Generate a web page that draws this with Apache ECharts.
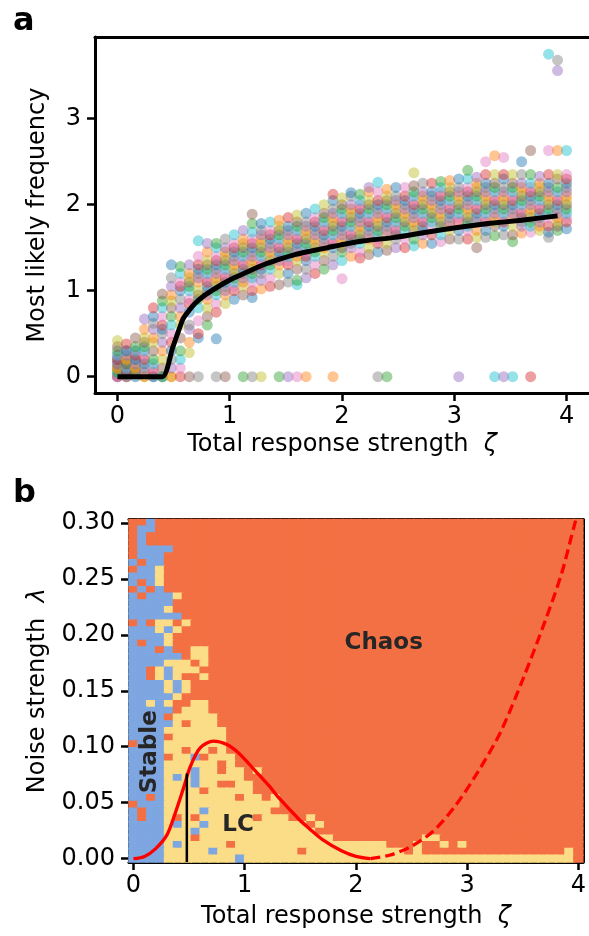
<!DOCTYPE html>
<html>
<head>
<meta charset="utf-8">
<script src="https://cdn.jsdelivr.net/npm/echarts@6/dist/echarts.min.js"></script>
<style>
html, body { margin: 0; padding: 0; background: #fff; }
#chart { width: 589px; height: 936px; }
</style>
</head>
<body>
<div id="chart"></div>
<script>
// ---- panel a : most likely frequency vs response strength ----
var zetaTicks = [0, 1, 2, 3, 4];
var freqTicks = [0, 1, 2, 3];
var zetaGrid = [0, 0.08, 0.16, 0.24, 0.32, 0.4, 0.48, 0.56, 0.64, 0.72, 0.8, 0.88, 0.96, 1.04, 1.12, 1.2, 1.28,
    1.36, 1.44, 1.52, 1.6, 1.68, 1.76, 1.84, 1.92, 2, 2.08, 2.16, 2.24, 2.32, 2.4, 2.48, 2.56, 2.64, 2.72, 2.8,
    2.88, 2.96, 3.04, 3.12, 3.2, 3.28, 3.36, 3.44, 3.52, 3.6, 3.68, 3.76, 3.84, 3.92, 4];
// one list of observed frequencies per zeta value
var freqCols = [
    [0, 0, 0, 0.05, 0.05, 0.1, 0.1, 0.1, 0.15, 0.15, 0.2, 0.2, 0.25, 0.25, 0.3, 0.35, 0.42],
    [0, 0, 0, 0.05, 0.05, 0.1, 0.1, 0.15, 0.15, 0.2, 0.2, 0.25, 0.3, 0.3, 0.38],
    [0, 0, 0.05, 0.05, 0.1, 0.1, 0.15, 0.2, 0.2, 0.25, 0.3, 0.3, 0.35, 0.45],
    [0, 0, 0.05, 0.1, 0.15, 0.2, 0.25, 0.3, 0.35, 0.4, 0.45, 0.55, 0.67],
    [0, 0, 0.05, 0.1, 0.15, 0.2, 0.3, 0.4, 0.45, 0.55, 0.62, 0.7, 0.8],
    [0, 0, 0, 0.1, 0.2, 0.3, 0.4, 0.5, 0.55, 0.6, 0.7, 0.8, 0.88, 0.96],
    [0, 0, 0.1, 0.2, 0.3, 0.4, 0.5, 0.6, 0.7, 0.8, 0.88, 0.95, 1.05, 1.15, 1.3],
    [0, 0.1, 0.2, 0.3, 0.45, 0.6, 0.7, 0.8, 0.9, 1.0, 1.05, 1.1, 1.2, 1.28],
    [0, 0.28, 0.4, 0.55, 0.6, 0.75, 0.85, 0.9, 1.0, 1.05, 1.1, 1.15, 1.2, 1.3],
    [0, 0.45, 0.5, 0.65, 0.8, 0.9, 0.95, 1.0, 1.1, 1.15, 1.2, 1.25, 1.3, 1.4, 1.58],
    [0.6, 0.7, 0.8, 0.9, 0.95, 1.0, 1.05, 1.1, 1.15, 1.2, 1.25, 1.3, 1.35, 1.45, 1.55],
    [0, 0.44, 0.75, 0.85, 0.95, 1.0, 1.05, 1.1, 1.15, 1.2, 1.25, 1.3, 1.35, 1.4, 1.5, 1.55],
    [0, 0.85, 0.95, 1.0, 1.05, 1.1, 1.15, 1.2, 1.25, 1.3, 1.35, 1.4, 1.45, 1.5, 1.6],
    [0.9, 1.0, 1.05, 1.1, 1.15, 1.2, 1.25, 1.3, 1.35, 1.4, 1.45, 1.5, 1.55, 1.65],
    [0, 0.95, 1.05, 1.1, 1.15, 1.2, 1.25, 1.3, 1.35, 1.4, 1.45, 1.5, 1.55, 1.6, 1.7],
    [0, 0.92, 1.0, 1.1, 1.15, 1.2, 1.25, 1.3, 1.35, 1.4, 1.45, 1.5, 1.55, 1.6, 1.68, 1.78, 1.89],
    [0, 1.02, 1.12, 1.2, 1.25, 1.3, 1.35, 1.4, 1.45, 1.5, 1.55, 1.6, 1.65, 1.7, 1.78],
    [1.05, 1.15, 1.25, 1.3, 1.35, 1.4, 1.45, 1.5, 1.55, 1.6, 1.65, 1.7, 1.8],
    [0, 1.07, 1.2, 1.3, 1.35, 1.4, 1.45, 1.5, 1.55, 1.6, 1.65, 1.7, 1.75, 1.82],
    [0, 1.1, 1.2, 1.3, 1.35, 1.4, 1.45, 1.5, 1.55, 1.6, 1.65, 1.7, 1.75, 1.85],
    [0, 1.07, 1.12, 1.25, 1.35, 1.4, 1.45, 1.5, 1.55, 1.6, 1.65, 1.7, 1.75, 1.8, 1.88],
    [0, 1.15, 1.25, 1.35, 1.4, 1.45, 1.5, 1.55, 1.6, 1.65, 1.7, 1.75, 1.8, 1.9],
    [1.2, 1.3, 1.4, 1.45, 1.5, 1.55, 1.6, 1.65, 1.7, 1.75, 1.8, 1.85, 1.95],
    [1.25, 1.35, 1.45, 1.5, 1.55, 1.6, 1.65, 1.7, 1.75, 1.8, 1.85, 1.9, 2.0],
    [0, 1.3, 1.4, 1.5, 1.55, 1.6, 1.65, 1.7, 1.75, 1.8, 1.85, 1.9, 1.95, 2.05, 2.12],
    [1.14, 1.35, 1.45, 1.5, 1.55, 1.6, 1.65, 1.7, 1.75, 1.8, 1.85, 1.9, 1.95, 2.0, 2.08],
    [1.4, 1.5, 1.55, 1.6, 1.65, 1.7, 1.75, 1.8, 1.85, 1.9, 1.95, 2.0, 2.1, 2.14],
    [1.38, 1.45, 1.55, 1.6, 1.65, 1.7, 1.75, 1.8, 1.85, 1.9, 1.95, 2.0, 2.05, 2.12],
    [1.42, 1.5, 1.6, 1.65, 1.7, 1.75, 1.8, 1.85, 1.9, 1.95, 2.0, 2.05, 2.15, 2.2],
    [0, 1.45, 1.55, 1.6, 1.65, 1.7, 1.75, 1.8, 1.85, 1.9, 1.95, 2.0, 2.05, 2.15, 2.26],
    [0, 1.47, 1.55, 1.65, 1.7, 1.75, 1.8, 1.85, 1.9, 1.95, 2.0, 2.05, 2.1, 2.18],
    [1.5, 1.6, 1.65, 1.7, 1.75, 1.8, 1.85, 1.9, 1.95, 2.0, 2.05, 2.1, 2.2],
    [1.5, 1.6, 1.7, 1.75, 1.8, 1.85, 1.9, 1.95, 2.0, 2.05, 2.1, 2.2],
    [1.52, 1.6, 1.7, 1.75, 1.8, 1.85, 1.9, 1.95, 2.0, 2.05, 2.1, 2.15, 2.22, 2.37],
    [1.55, 1.65, 1.7, 1.75, 1.8, 1.85, 1.9, 1.95, 2.0, 2.05, 2.1, 2.15, 2.25],
    [1.55, 1.65, 1.75, 1.8, 1.85, 1.9, 1.95, 2.0, 2.05, 2.1, 2.15, 2.25],
    [1.57, 1.65, 1.75, 1.8, 1.85, 1.9, 1.95, 2.0, 2.05, 2.1, 2.15, 2.2, 2.27],
    [1.6, 1.7, 1.75, 1.8, 1.85, 1.9, 1.95, 2.0, 2.05, 2.1, 2.15, 2.2, 2.28],
    [0, 1.6, 1.7, 1.8, 1.85, 1.9, 1.95, 2.0, 2.05, 2.1, 2.15, 2.2, 2.3],
    [1.6, 1.7, 1.75, 1.8, 1.85, 1.9, 1.95, 2.0, 2.05, 2.1, 2.15, 2.2, 2.3, 2.4],
    [1.5, 1.62, 1.7, 1.8, 1.85, 1.9, 1.95, 2.0, 2.05, 2.1, 2.15, 2.2, 2.25, 2.32],
    [1.62, 1.7, 1.8, 1.85, 1.9, 1.95, 2.0, 2.05, 2.1, 2.15, 2.2, 2.25, 2.35, 2.5],
    [0, 1.64, 1.75, 1.8, 1.85, 1.9, 1.95, 2.0, 2.05, 2.1, 2.15, 2.2, 2.25, 2.35, 2.57],
    [0, 1.65, 1.75, 1.8, 1.85, 1.9, 1.95, 2.0, 2.05, 2.1, 2.15, 2.2, 2.3, 2.35, 2.55],
    [0, 1.57, 1.65, 1.75, 1.85, 1.9, 1.95, 2.0, 2.05, 2.1, 2.15, 2.2, 2.25, 2.35],
    [1.67, 1.75, 1.8, 1.85, 1.9, 1.95, 2.0, 2.05, 2.1, 2.15, 2.2, 2.25, 2.35, 2.5],
    [0, 1.68, 1.75, 1.8, 1.85, 1.9, 1.95, 2.0, 2.05, 2.1, 2.15, 2.2, 2.25, 2.35, 2.63],
    [1.7, 1.75, 1.8, 1.85, 1.9, 1.95, 2.0, 2.05, 2.1, 2.15, 2.2, 2.25, 2.33],
    [1.62, 1.68, 1.75, 1.85, 1.9, 1.95, 2.0, 2.05, 2.1, 2.15, 2.2, 2.25, 2.35, 2.63, 3.75],
    [1.7, 1.75, 1.8, 1.85, 1.9, 1.95, 2.0, 2.05, 2.1, 2.15, 2.2, 2.3, 2.35, 2.63, 3.56, 3.68],
    [1.72, 1.8, 1.85, 1.9, 1.95, 2.0, 2.05, 2.1, 2.15, 2.2, 2.25, 2.3, 2.35, 2.63]
];
// mean curve
var fitX = [0, 0.4, 0.49, 0.58, 0.62, 0.69, 0.76, 0.84, 0.94, 1.04, 1.16, 1.28, 1.43, 1.58, 1.72, 1.87, 2.02,
    2.2, 2.47, 2.75, 3.06, 3.3, 3.6, 3.92];
var fitY = [0, 0, 0.33, 0.66, 0.74, 0.85, 0.93, 1.0, 1.08, 1.15, 1.22, 1.29, 1.36, 1.42, 1.46, 1.5, 1.54,
    1.58, 1.62, 1.68, 1.74, 1.78, 1.82, 1.87];

// ---- panel b : phase diagram ----
var noiseTicks = [0, 0.05, 0.1, 0.15, 0.2, 0.25, 0.3];
var noiseGrid = [0, 0.006, 0.012, 0.018, 0.024, 0.03, 0.036, 0.042, 0.048, 0.054, 0.06, 0.066, 0.072, 0.078,
    0.084, 0.09, 0.096, 0.102, 0.108, 0.114, 0.12, 0.126, 0.132, 0.138, 0.144, 0.15, 0.156, 0.162, 0.168, 0.174,
    0.18, 0.186, 0.192, 0.198, 0.204, 0.21, 0.216, 0.222, 0.228, 0.234, 0.24, 0.246, 0.252, 0.258, 0.264, 0.27,
    0.276, 0.282, 0.288, 0.294, 0.3];
// S = stable, L = limit cycle, C = chaos ; rows from lambda = 0.3 (top) down to 0
var stateRows = [
    'CCSCCCCCCC CCCCCCCCCC CCCCCCCCCC CCCCCCCCCC CCCCCCCCCC C',
    'CSSCCCCCCC CCCCCCCCCC CCCCCCCCCC CCCCCCCCCC CCCCCCCCCC C',
    'CSCCCCCCCC CCCCCCCCCC CCCCCCCCCC CCCCCCCCCC CCCCCCCCCC C',
    'CSCCCCCCCC CCCCCCCCCC CCCCCCCCCC CCCCCCCCCC CCCCCCCCCC C',
    'CSSSSCCCCC CCCCCCCCCC CCCCCCCCCC CCCCCCCCCC CCCCCCCCCC C',
    'CSSSCCCCCC CCCCCCCCCC CCCCCCCCCC CCCCCCCCCC CCCCCCCCCC C',
    'SCSSCCCCCC CCCCCCCCCC CCCCCCCCCC CCCCCCCCCC CCCCCCCCCC C',
    'CSSLCCCCCC CCCCCCCCCC CCCCCCCCCC CCCCCCCCCC CCCCCCCCCC C',
    'SSSLCCCCCC CCCCCCCCCC CCCCCCCCCC CCCCCCCCCC CCCCCCCCCC C',
    'SCSLCCCCCC CCCCCCCCCC CCCCCCCCCC CCCCCCCCCC CCCCCCCCCC C',
    'CSCSCCCCCC CCCCCCCCCC CCCCCCCCCC CCCCCCCCCC CCCCCCCCCC C',
    'SCSSSLCCCC CCCCCCCCCC CCCCCCCCCC CCCCCCCCCC CCCCCCCCCC C',
    'SSSSSCCCCC CCCCCCCCCC CCCCCCCCCC CCCCCCCCCC CCCCCCCCCC C',
    'SSSSLCCCCC CCCCCCCCCC CCCCCCCCCC CCCCCCCCCC CCCCCCCCCC C',
    'SSSSSSCCCC CCCCCCCCCC CCCCCCCCCC CCCCCCCCCC CCCCCCCCCC C',
    'CSCLLCLCCC CCCCCCCCCC CCCCCCCCCC CCCCCCCCCC CCCCCCCCCC C',
    'SSSLSLCCCC CCCCCCCCCC CCCCCCCCCC CCCCCCCCCC CCCCCCCCCC C',
    'SSSSLCCCCC CCCCCCCCCC CCCCCCCCCC CCCCCCCCCC CCCCCCCCCC C',
    'SCSSLCCCCC CCCCCCCCCC CCCCCCCCCC CCCCCCCCCC CCCCCCCCCC C',
    'SSSCSCCLLC CCCCCCCCCC CCCCCCCCCC CCCCCCCCCC CCCCCCCCCC C',
    'SSSSSSCLLC CCCCCCCCCC CCCCCCCCCC CCCCCCCCCC CCCCCCCCCC C',
    'SSSSLLLCLC CCCCCCCCCC CCCCCCCCCC CCCCCCCCCC CCCCCCCCCC C',
    'SSCLSLLLCC CCCCCCCCCC CCCCCCCCCC CCCCCCCCCC CCCCCCCCCC C',
    'SSCLSLCCLC CCCCCCCCCC CCCCCCCCCC CCCCCCCCCC CCCCCCCCCC C',
    'SSSSLSLCCC CCCCCCCCCC CCCCCCCCCC CCCCCCCCCC CCCCCCCCCC C',
    'SSSSLSLCCC CCCCCCCCCC CCCCCCCCCC CCCCCCCCCC CCCCCCCCCC C',
    'SSSSSLCCCC CCCCCCCCCC CCCCCCCCCC CCCCCCCCCC CCCCCCCCCC C',
    'SSLSLCCLLC CCCCCCCCCC CCCCCCCCCC CCCCCCCCCC CCCCCCCCCC C',
    'SSSSSCLLLC CCCCCCCCCC CCCCCCCCCC CCCCCCCCCC CCCCCCCCCC C',
    'SSSSCLLLLL CCCCCCCCCC CCCCCCCCCC CCCCCCCCCC CCCCCCCCCC C',
    'SSSSSLCLLL CCCCCCCCCC CCCCCCCCCC CCCCCCCCCC CCCCCCCCCC C',
    'SSSSLLLLLL LCCCCCCCCC CCCCCCCCCC CCCCCCCCCC CCCCCCCCCC C',
    'SSSSCLLLLL LCCCCCCCCC CCCCCCCCCC CCCCCCCCCC CCCCCCCCCC C',
    'CSSSLLLLLL LCCCCCCCCC CCCCCCCCCC CCCCCCCCCC CCCCCCCCCC C',
    'SSSSLLCLLC LCCCCCCCCC CCCCCCCCCC CCCCCCCCCC CCCCCCCCCC C',
    'SSSSCLLSCL LLCCCCCCCC CCCCCCCCCC CCCCCCCCCC CCCCCCCCCC C',
    'SSSSLLLLLL CLCCCCCCCC CCCCCCCCCC CCCCCCCCCC CCCCCCCCCC C',
    'SSSSLLLSLL CLLCLCCCCC CCCCCCCCCC CCCCCCCCCC CCCCCCCCCC C',
    'SSSSLSLSLL LLLCCCCCCC CCCCCCCCCC CCCCCCCCCC CCCCCCCCCC C',
    'SSSSLLLSLL CCLLCCCCCC CCCCCCCCCC CCCCCCCCCC CCCCCCCCCC C',
    'SSSSLLLLCL LLLLCCCCCC CCCCCCCCCC CCCCCCCCCC CCCCCCCCCC C',
    'SSCSLLLLLL LLCLLCLCCC CCCCCCCCCC CCCCCCCCCC CCCCCCCCCC C',
    'CSSSLLLLLL LLLLLLLCCC CCCCCCCCCC CCCCCCCCCC CCCCCCCCCC C',
    'SCSSLLLLSL LLLLLLCCCC CCCCCCCCCC CCCCCCCCCC CCCCCCCCCC C',
    'SCSSLCLCLL LLLLCLLLCC LCCCCCCCCC CCCCCCCCCC CCCCCCCCCC C',
    'SSSSLSLLSL LLLLLLLLLL CLCCCCCCCC CCCCCCCCCC CCCCCCCCCC C',
    'SSSSLLLSLL LLLLLLLLLL LCCCCCCCCC CCCCCCCCCC CCCCCCCCCC C',
    'SSSSLLLCLL LLLLLLLLLL LLLCCCCCCC CCCLLCCCCC CCCCCCCCCC C',
    'SSSSLSLLLL LCLLLLLLLL LLLLLLLLLC CCLCCLCLCC CCCCCCCCCC C',
    'SSSSLLLLLS LLLLLLLLLC LLLLLLLLLL LCLCCCCCCC CCCCCCCCCL C',
    'SSSSLLLLLL LLSLLLLLLL LLLLLLLLLL LLLLLLLLLL LLLLLLLLLL C'
];
var boundaryX = [0, 0.1, 0.2, 0.3, 0.37, 0.45, 0.51, 0.6, 0.72, 0.84, 0.95, 1.1, 1.22, 1.31, 1.49, 1.58,
    1.7, 1.87, 2.0, 2.13];
var boundaryY = [0, 0.002, 0.009, 0.021, 0.039, 0.063, 0.082, 0.099, 0.105, 0.102, 0.094, 0.078, 0.065,
    0.054, 0.035, 0.027, 0.017, 0.007, 0.002, 0];
var unstableX = [2.13, 2.3, 2.5, 2.7, 2.9, 3.1, 3.3, 3.5, 3.7, 3.85, 3.97, 4.04];
var unstableY = [0, 0.003, 0.011, 0.025, 0.048, 0.078, 0.113, 0.16, 0.212, 0.255, 0.3, 0.322];
var hopfX = [0.48, 0.48];
var hopfY = [-0.003, 0.076];
var regionNames = ['Stable', 'LC', 'Chaos'];
var regionX = [0.15, 0.94, 2.25];
var regionY = [0.0955, 0.03, 0.193];

var tab10 = ['#1f77b4', '#ff7f0e', '#2ca02c', '#d62728', '#9467bd', '#8c564b', '#e377c2', '#7f7f7f', '#bcbd22', '#17becf'];
var stateColors = ['#7ea6e0', '#fbdc87', '#f37044'];

function pairs(xs, ys) {
    var out = [];
    for (var i = 0; i < xs.length; i++) {
        out.push([xs[i], ys[i]]);
    }
    return out;
}

var freqPoints = [];
freqCols.forEach(function (col, c) {
    col.forEach(function (v) {
        freqPoints.push([zetaGrid[c], v]);
    });
});

var cells = [];
stateRows.forEach(function (row, i) {
    var s = row.replace(/ /g, '');
    for (var c = 0; c < s.length; c++) {
        cells.push([zetaGrid[c], noiseGrid[noiseGrid.length - 1 - i], 'SLC'.indexOf(s[c])]);
    }
});
var halfW = (zetaGrid[1] - zetaGrid[0]) / 2;
var halfH = (noiseGrid[1] - noiseGrid[0]) / 2;

var regionData = regionNames.map(function (n, i) {
    return {name: n, value: [regionX[i], regionY[i]], label: {rotate: n === 'Stable' ? 90 : 0}};
});

var FONT = 'DejaVu Sans';
var black = '#000';

function boxAxis(gridIndex, pos, min, max) {
    return {
        gridIndex: gridIndex, type: 'value', position: pos, min: min, max: max,
        axisLine: {show: true, onZero: false, lineStyle: {color: black, width: 3}},
        axisTick: {show: false}, axisLabel: {show: false}, splitLine: {show: false}
    };
}

function mainAxis(gridIndex, pos, min, max, ticks, fmt, name, gap, margin) {
    return {
        gridIndex: gridIndex, type: 'value', position: pos, min: min, max: max,
        name: name, nameLocation: 'middle', nameGap: gap,
        nameRotate: (pos === 'left') ? 90 : 0,
        nameTextStyle: {fontSize: 24, color: black, fontFamily: FONT,
            rich: {g: {fontSize: 24, fontStyle: 'italic', fontFamily: FONT, color: black}}},
        axisLine: {show: true, onZero: false, lineStyle: {color: black, width: 3}},
        axisTick: {show: true, length: 8, customValues: ticks, lineStyle: {color: black, width: 2.5}},
        axisLabel: {show: true, customValues: ticks, fontSize: 24, color: black, fontFamily: FONT,
            margin: margin, formatter: fmt},
        splitLine: {show: false}
    };
}

var myChart = echarts.init(document.getElementById('chart'), null, {renderer: 'canvas'});

var option = {
    animation: false,
    backgroundColor: '#fff',
    textStyle: {fontFamily: FONT},
    title: [
        {text: 'a', left: 8, top: 1, textStyle: {fontSize: 32, fontWeight: 'bold', color: black, fontFamily: FONT}},
        {text: 'b', left: 8, top: 473, textStyle: {fontSize: 32, fontWeight: 'bold', color: black, fontFamily: FONT}}
    ],
    grid: [
        {left: 95, top: 37, width: 497, height: 356},
        {left: 129, top: 519.5, width: 459, height: 342.5}
    ],
    xAxis: [
        mainAxis(0, 'bottom', -0.2, 4.2, zetaTicks, function (v) { return String(v); },
            'Total response strength  {g|ζ}', 40, 12),
        boxAxis(0, 'top', -0.2, 4.2),
        mainAxis(1, 'bottom', -0.04, 4.04, zetaTicks, function (v) { return String(v); },
            'Total response strength  {g|ζ}', 43, 12),
        boxAxis(1, 'top', -0.04, 4.04)
    ],
    yAxis: [
        mainAxis(0, 'left', -0.19, 3.95, freqTicks, function (v) { return String(v); },
            'Most likely frequency', 45, 14),
        mainAxis(1, 'left', -0.003, 0.303, noiseTicks, function (v) { return v.toFixed(2); },
            'Noise strength  {g|λ}', 79, 14),
        boxAxis(1, 'right', -0.003, 0.303)
    ],
    series: [
        {
            type: 'scatter',
            xAxisIndex: 0, yAxisIndex: 0,
            symbol: 'circle', symbolSize: 11,
            data: freqPoints,
            itemStyle: {
                opacity: 0.45,
                color: function (p) { return tab10[(p.dataIndex * 3) % 10]; }
            },
            z: 2
        },
        {
            type: 'line',
            xAxisIndex: 0, yAxisIndex: 0,
            data: pairs(fitX, fitY),
            showSymbol: false, symbol: 'none',
            smooth: 0.2,
            lineStyle: {color: black, width: 5},
            z: 3
        },
        {
            type: 'custom',
            xAxisIndex: 2, yAxisIndex: 1,
            data: cells,
            encode: {x: 0, y: 1},
            renderItem: function (params, api) {
                var x = api.value(0), y = api.value(1);
                var p0 = api.coord([x - halfW, y + halfH]);
                var p1 = api.coord([x + halfW, y - halfH]);
                var col = stateColors[api.value(2)];
                return {
                    type: 'rect',
                    shape: {x: p0[0], y: p0[1], width: p1[0] - p0[0], height: p1[1] - p0[1]},
                    style: {fill: col, stroke: col, lineWidth: 1.5}
                };
            },
            z: 1
        },
        {
            type: 'line',
            xAxisIndex: 2, yAxisIndex: 1,
            data: pairs(boundaryX, boundaryY),
            showSymbol: false, symbol: 'none', smooth: 0.3,
            lineStyle: {color: '#ff0000', width: 3.3},
            z: 3
        },
        {
            type: 'line',
            xAxisIndex: 2, yAxisIndex: 1,
            data: pairs(unstableX, unstableY),
            showSymbol: false, symbol: 'none', smooth: 0.3,
            lineStyle: {color: '#ff0000', width: 3.3, type: [10, 5]},
            z: 3
        },
        {
            type: 'line',
            xAxisIndex: 2, yAxisIndex: 1,
            data: pairs(hopfX, hopfY),
            showSymbol: false, symbol: 'none',
            lineStyle: {color: black, width: 2.5},
            z: 3
        },
        {
            type: 'scatter',
            xAxisIndex: 2, yAxisIndex: 1,
            symbolSize: 1,
            itemStyle: {color: 'rgba(0,0,0,0)'},
            data: regionData,
            label: {
                show: true, position: 'inside', formatter: '{b}',
                fontSize: 23, fontWeight: 'bold', color: '#262626', fontFamily: FONT,
                textBorderWidth: 0, opacity: 1
            },
            z: 4
        }
    ]
};

myChart.setOption(option);
</script>
</body>
</html>
